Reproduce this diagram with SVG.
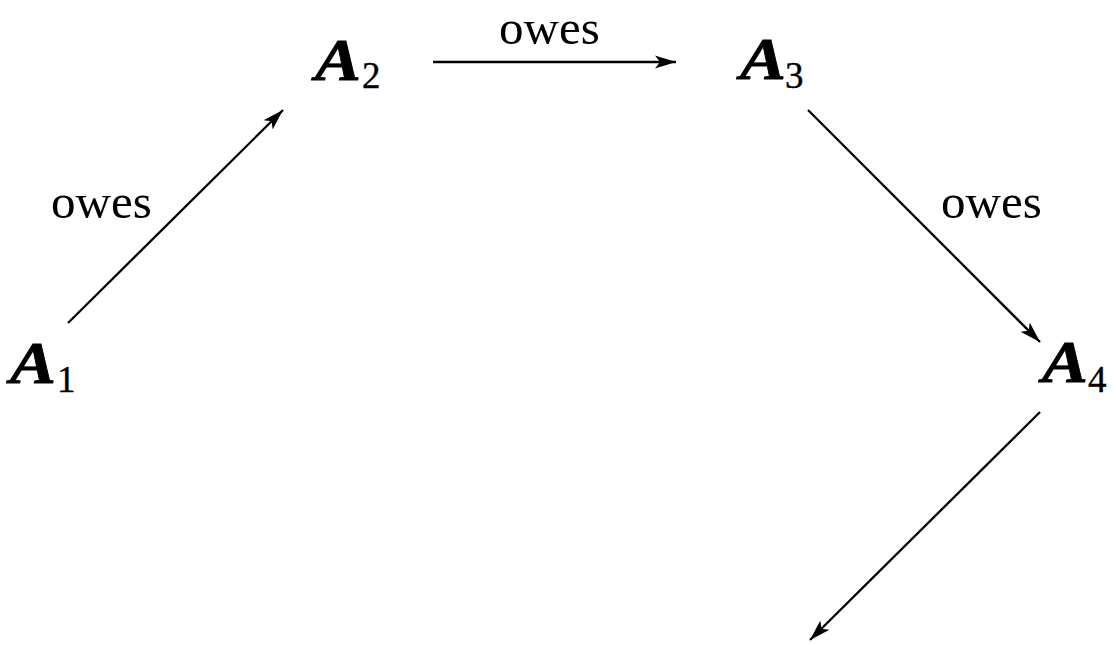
<svg xmlns="http://www.w3.org/2000/svg" width="1116" height="645" viewBox="0 0 1116 645">
<defs>
<style>
.A{font-family:"Liberation Serif","Times New Roman",serif;font-weight:bold;font-style:italic;font-size:60px;fill:#000;stroke:#000;stroke-width:0.8}
.sub{font-family:"Liberation Serif","Times New Roman",serif;font-size:37px;fill:#000;stroke:#000;stroke-width:0.4}
.lbl{font-family:"Liberation Serif","Times New Roman",serif;font-size:49px;fill:#000}
.edge{stroke:#000;stroke-width:2.3;fill:none;marker-end:url(#ah)}
</style>
<marker id="ah" markerUnits="userSpaceOnUse" markerWidth="24" markerHeight="16" refX="21" refY="8" orient="auto">
<path d="M0,1.5 L21,8 L0,14.5 L5,8 Z" fill="#000"/>
</marker>
</defs>
<rect width="1116" height="645" fill="#fff"/>
<g id="connectors">
<line class="edge" x1="68" y1="323" x2="283" y2="110"/>
<line class="edge" x1="433" y1="62" x2="676" y2="62"/>
<line class="edge" x1="808" y1="110" x2="1040" y2="342"/>
<line class="edge" x1="1040" y1="412" x2="810" y2="640"/>
<text class="lbl" x="499" y="44">owes</text>
<text class="lbl" x="51" y="218">owes</text>
<text class="lbl" x="941" y="218">owes</text>
</g>
<g id="A1"><text class="A" transform="translate(10,383) scale(1.15,1)">A</text><text class="sub" x="57" y="392">1</text></g>
<g id="A2"><text class="A" transform="translate(315,80) scale(1.15,1)">A</text><text class="sub" x="362" y="88">2</text></g>
<g id="A3"><text class="A" transform="translate(740,79) scale(1.15,1)">A</text><text class="sub" x="785" y="88">3</text></g>
<g id="A4"><text class="A" transform="translate(1042,382) scale(1.15,1)">A</text><text class="sub" x="1088" y="392">4</text></g>
</svg>
